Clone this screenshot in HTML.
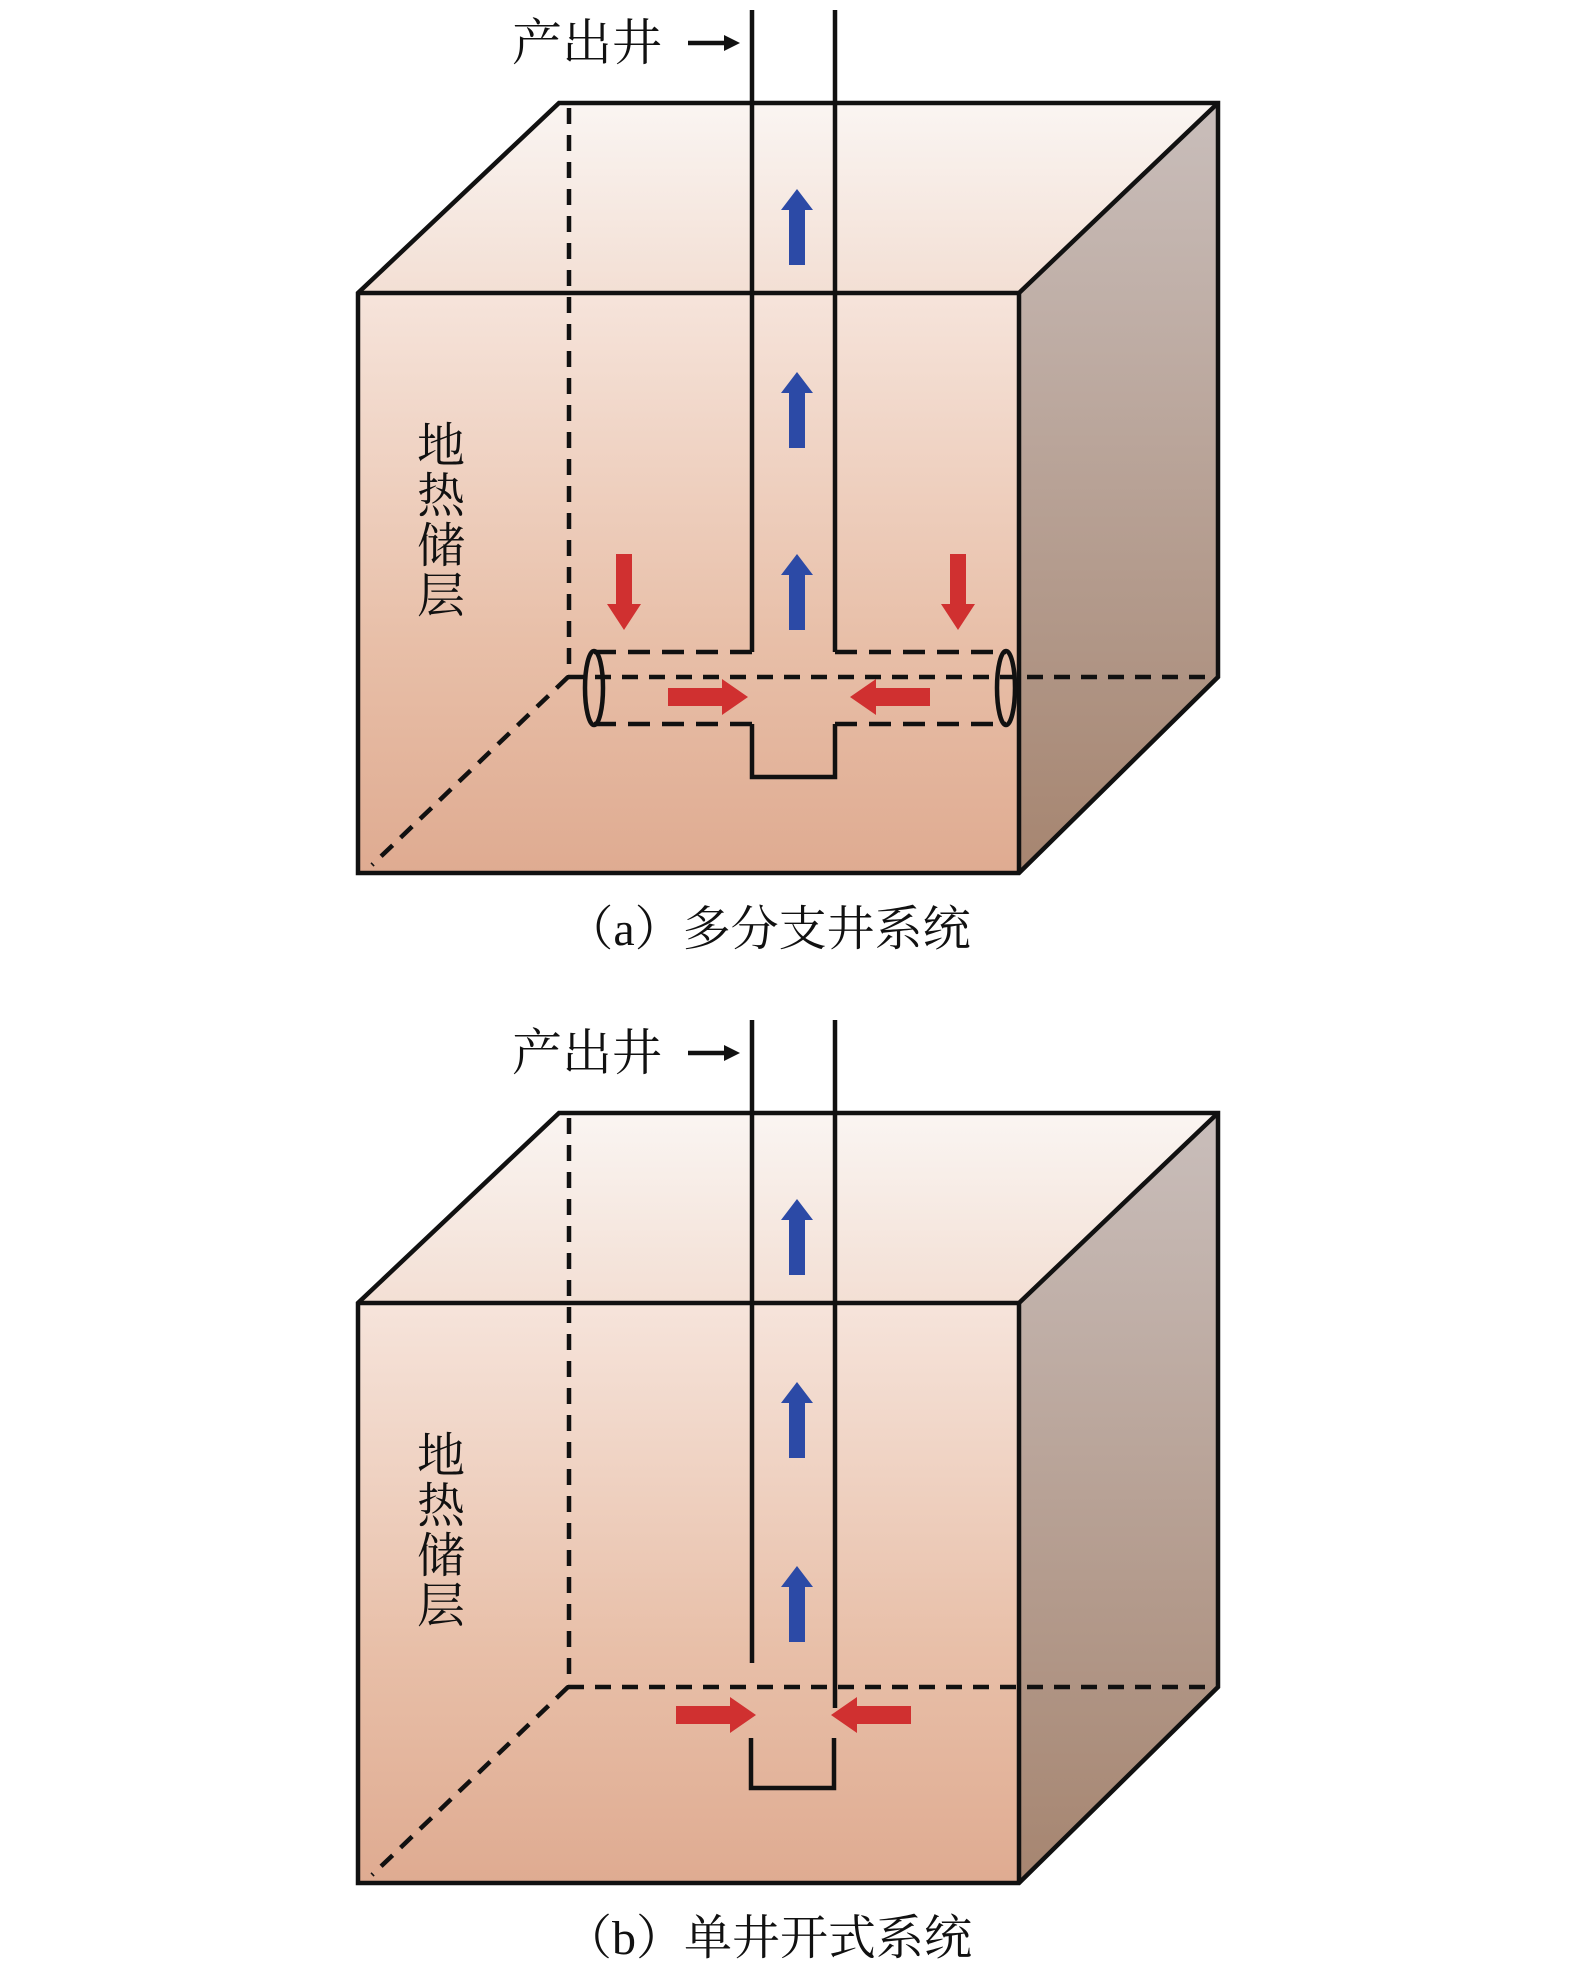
<!DOCTYPE html>
<html><head><meta charset="utf-8"><style>
html,body{margin:0;padding:0;background:#fff}
svg{display:block}
text{font-family:"Liberation Serif","Noto Serif CJK SC",serif;fill:#111}
</style></head><body>
<svg width="1575" height="1971" viewBox="0 0 1575 1971" xmlns="http://www.w3.org/2000/svg">
<defs>
<linearGradient id="gf" x1="0" y1="0" x2="0" y2="1"><stop offset="0" stop-color="#f6e4db"/><stop offset="0.6" stop-color="#e8bfa8"/><stop offset="1" stop-color="#dfab91"/></linearGradient>
<linearGradient id="gt" x1="0" y1="0" x2="0" y2="1"><stop offset="0" stop-color="#faf5f2"/><stop offset="1" stop-color="#f3dfd4"/></linearGradient>
<linearGradient id="gr" x1="0" y1="0" x2="0" y2="1"><stop offset="0" stop-color="#c9bebb"/><stop offset="1" stop-color="#a68570"/></linearGradient>
<g id="cube">
<polygon points="559,103 1218,103 1019,293 358,293" fill="url(#gt)"/>
<polygon points="1218,103 1218,677 1019,873 1019,293" fill="url(#gr)"/>
<rect x="358" y="293" width="661" height="580" fill="url(#gf)"/>
<g stroke="#111" stroke-width="4.5" fill="none" stroke-dasharray="16,11">
<line x1="569" y1="108" x2="569" y2="677"/>
<line x1="568" y1="677" x2="1218" y2="677"/>
<line x1="568" y1="677" x2="372" y2="865"/>
</g>
<g stroke="#111" stroke-width="4.5" fill="none" stroke-linejoin="miter">
<polygon points="559,103 1218,103 1218,677 1019,873 358,873 358,293"/>
<polyline points="358,293 1019,293 1218,103"/>
<line x1="1019" y1="293" x2="1019" y2="873"/>
</g>
<g font-size="48"><text x="441" y="462" text-anchor="middle">地</text><text x="441" y="512" text-anchor="middle">热</text><text x="441" y="562" text-anchor="middle">储</text><text x="441" y="612" text-anchor="middle">层</text></g>
<text x="512" y="60" font-size="50">产出井</text>
<line x1="688" y1="43" x2="728" y2="43" stroke="#111" stroke-width="4.5"/>
<polygon points="740,43 724,35 724,51" fill="#111"/>
</g>
<g id="bup"><polygon points="797,189 813,210 805,210 805,265 789,265 789,210 781,210" fill="#2c4aa6"/></g>
<g id="rdown"><polygon points="0,630 -17,604 -8,604 -8,554 8,554 8,604 17,604" fill="#d03030"/></g>
<g id="rright"><polygon points="0,0 -26,-18 -26,-9 -80,-9 -80,9 -26,9 -26,18" fill="#d03030"/></g>
</defs>

<use href="#cube"/>
<g stroke="#111" stroke-width="4.5" fill="none">
<line x1="752" y1="10" x2="752" y2="652"/>
<line x1="835" y1="10" x2="835" y2="652"/>
<g stroke-dasharray="22,12">
<line x1="594" y1="652" x2="752" y2="652"/>
<line x1="835" y1="652" x2="1006" y2="652"/>
<line x1="594" y1="724" x2="752" y2="724"/>
<line x1="835" y1="724" x2="1006" y2="724"/>
</g>
<polyline points="752,724 752,777 835,777 835,724"/>
<ellipse cx="594" cy="688" rx="9" ry="37"/>
<ellipse cx="1006" cy="688" rx="9" ry="37"/>
</g>
<use href="#bup"/><use href="#bup" y="183"/><use href="#bup" y="365"/>
<use href="#rdown" x="624"/><use href="#rdown" x="958"/>
<use href="#rright" x="748" y="697"/>
<use href="#rright" transform="translate(850,697) scale(-1,1)"/>
<text x="768" y="945" font-size="48" text-anchor="middle">（a）多分支井系统</text>

<use href="#cube" y="1010"/>
<g stroke="#111" stroke-width="4.5" fill="none">
<line x1="752" y1="1020" x2="752" y2="1663"/>
<line x1="835" y1="1020" x2="835" y2="1708"/>
<polyline points="751,1738 751,1788 834,1788 834,1738"/>
</g>
<use href="#bup" y="1010"/><use href="#bup" y="1193"/><use href="#bup" y="1377"/>
<use href="#rright" x="756" y="1715"/>
<use href="#rright" transform="translate(831,1715) scale(-1,1)"/>
<text x="768" y="1954" font-size="48" text-anchor="middle">（b）单井开式系统</text>
</svg>
</body></html>
